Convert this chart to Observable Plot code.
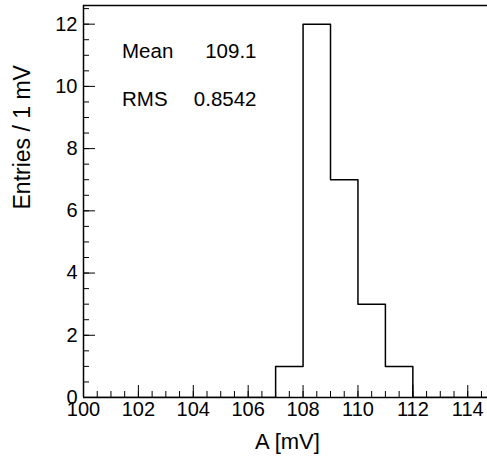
<!DOCTYPE html>
<html>
<head>
<meta charset="utf-8">
<script src="https://cdn.jsdelivr.net/npm/d3@7"></script>
<script src="https://cdn.jsdelivr.net/npm/@observablehq/plot@0.6"></script>
<style>
  html, body { margin: 0; padding: 0; background: white; }
</style>
</head>
<body>
<div id="chart"></div>
<script>
// Histogram data (1 mV bins)
const binLow = [100, 101, 102, 103, 104, 105, 106, 107, 108, 109, 110, 111, 112, 113, 114];
const counts = [0, 0, 0, 0, 0, 0, 0, 1, 12, 7, 3, 1, 0, 0, 0];
const binWidth = 1;

// Axis ticks
const xMajor = [100, 102, 104, 106, 108, 110, 112, 114];
const xMinor = d3.range(100, 115, 0.5);
const yMajor = [0, 2, 4, 6, 8, 10, 12];
const yMinor = d3.range(0, 12.6, 0.5);

// Stats box
const statLabels = ["Mean", "RMS"];
const statValues = ["109.1", "0.8542"];

const xTitle = "A [mV]";
const yTitle = "Entries / 1 mV";

// Step outline points (left edges + final right edge)
const steps = binLow.map((x, i) => ({x, y: counts[i]}));
steps.push({x: binLow[binLow.length - 1] + binWidth, y: 0});

const font = "'Liberation Sans', Arial, Helvetica, sans-serif";
const tickFont = 20;

const statMarks = statLabels.flatMap((lab, i) => [
  Plot.text([lab], {frameAnchor: "top-left", dx: 38.5, dy: 52 + i * 48, textAnchor: "start", lineAnchor: "bottom", fontSize: 20.5, fill: "black"}),
  Plot.text([statValues[i]], {frameAnchor: "top-left", dx: 173, dy: 52 + i * 48, textAnchor: "end", lineAnchor: "bottom", fontSize: 20.5, fill: "black"})
]);

const chart = Plot.plot({
  width: 487,
  height: 463,
  marginLeft: 83,
  marginRight: 0,
  marginTop: 5,
  marginBottom: 66,
  style: {fontFamily: font, fontSize: "20px", background: "white", color: "black"},
  x: {domain: [100, 114.72], axis: null},
  y: {domain: [0, 12.6], axis: null},
  marks: [
    Plot.line(steps, {x: "x", y: "y", curve: "step-after", stroke: "black", strokeWidth: 1.5, clip: true}),
    // minor ticks (inside)
    Plot.axisX({ticks: xMinor, tickSize: -6, tickFormat: () => "", label: null, strokeWidth: 1}),
    Plot.axisY({ticks: yMinor, tickSize: -6, tickFormat: () => "", label: null, strokeWidth: 1}),
    // major ticks (inside)
    Plot.axisX({ticks: xMajor, tickSize: -12, tickFormat: () => "", label: null, strokeWidth: 1}),
    Plot.axisY({ticks: yMajor, tickSize: -12, tickFormat: () => "", label: null, strokeWidth: 1}),
    // tick labels
    Plot.text(xMajor, {x: d => d, text: d => String(d), frameAnchor: "bottom", lineAnchor: "top", dy: 4, fontSize: tickFont, fill: "black"}),
    Plot.text(yMajor, {y: d => d, text: d => String(d), frameAnchor: "left", textAnchor: "end", dx: -6, fontSize: tickFont, fill: "black"}),
    // frame lines
    Plot.ruleX([100], {stroke: "black", strokeWidth: 1.5}),
    Plot.ruleY([0, 12.6], {stroke: "black", strokeWidth: 1.5}),
    // titles
    Plot.text([xTitle], {frameAnchor: "bottom", dx: 2, dy: 51, lineAnchor: "bottom", fontSize: 22, fill: "black"}),
    Plot.text([yTitle], {frameAnchor: "left", dx: -60.5, dy: 8, rotate: -90, fontSize: 23, fill: "black"}),
    ...statMarks
  ]
});
document.getElementById("chart").appendChild(chart);
</script>
</body>
</html>
